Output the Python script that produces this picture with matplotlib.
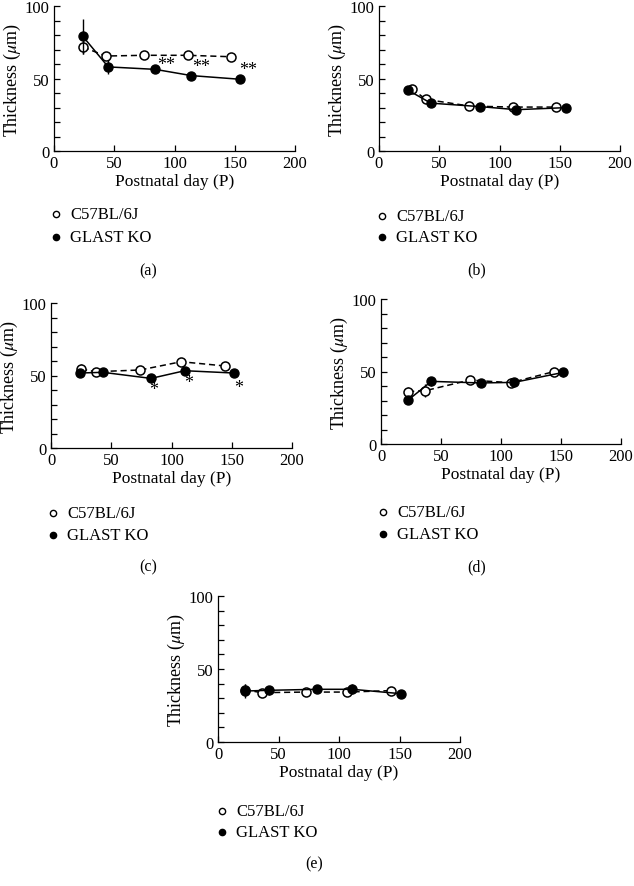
import numpy as np
import matplotlib
matplotlib.use("Agg")
import matplotlib.pyplot as plt
from matplotlib.lines import Line2D

plt.rcParams['font.family'] = ['Liberation Serif', 'DejaVu Serif']
plt.rcParams['mathtext.fontset'] = 'stix'

W, H = 634, 887

# Data ------------------------------------------------------------------
# (a)
a_wt_x = [24, 43, 75, 111, 147]
a_wt_y = [71.7, 65.5, 66, 66, 65]
a_wt_e = [4.5, 2, 1, 2, 1]
a_ko_x = [24, 45, 84, 114, 154]
a_ko_y = [79, 58, 56.3, 52, 49.5]
a_ko_e = [12, 5, 1, 1.5, 1.5]
a_star_x = [93, 122, 161]
a_star_y = [60, 58, 56]
a_star = ["**", "**", "**"]

# (b)
b_wt_x = [27, 39, 75, 111, 147]
b_wt_y = [43, 35.6, 31, 30.3, 30.3]
b_wt_e = [2, 1.5, 1, 1.5, 1]
b_ko_x = [24, 43, 84, 114, 155]
b_ko_y = [42, 33, 30.6, 28.5, 29.9]
b_ko_e = [2.5, 1.5, 1, 1, 1]

# (c)
c_wt_x = [25, 37, 74, 108, 144]
c_wt_y = [54.5, 52.6, 53.8, 59.5, 56.6]
c_wt_e = [3.5, 1, 1, 1, 1]
c_ko_x = [24, 43, 83, 111, 152]
c_ko_y = [51.7, 52.2, 48, 53.3, 51.7]
c_ko_e = [1, 1, 1, 1, 1]
c_star_x = [85, 114.5, 156]
c_star_y = [40, 45, 42]
c_star = ["*", "*", "*"]

# (d)
d_wt_x = [22.6, 37, 74, 108, 144]
d_wt_y = [36.1, 36.8, 44.1, 42.3, 49.9]
d_wt_e = [3, 4.6, 1, 3, 1]
d_ko_x = [22.6, 42, 83, 111, 152]
d_ko_y = [30.3, 43.2, 42.1, 42.5, 49.4]
d_ko_e = [3, 3, 3, 2, 3]

# (e)
e_wt_x = [22, 36, 73, 107, 143]
e_wt_y = [35.8, 33.8, 34.2, 34.2, 35.2]
e_wt_e = [4, 1, 1, 2, 1]
e_ko_x = [22, 42, 82, 111, 151]
e_ko_y = [34.9, 35.4, 36.1, 36.1, 33.1]
e_ko_e = [4.5, 3, 1, 3.5, 1]

panels = [
    # axes box (left, top, right, bottom) px, data, stars, legend, label pos, label
    ((54, 7, 295, 152), (a_wt_x, a_wt_y, a_wt_e, a_ko_x, a_ko_y, a_ko_e), (a_star_x, a_star_y, a_star),
     (56, 215, 238), (148, 271), "(a)"),
    ((379, 7, 620, 152), (b_wt_x, b_wt_y, b_wt_e, b_ko_x, b_ko_y, b_ko_e), None,
     (382, 217, 238), (477, 270), "(b)"),
    ((51, 304, 292, 449), (c_wt_x, c_wt_y, c_wt_e, c_ko_x, c_ko_y, c_ko_e), (c_star_x, c_star_y, c_star),
     (53, 514, 536), (148, 567), "(c)"),
    ((381, 300, 621, 445), (d_wt_x, d_wt_y, d_wt_e, d_ko_x, d_ko_y, d_ko_e), None,
     (383, 513, 535), (477, 567), "(d)"),
    ((218, 597, 460, 743), (e_wt_x, e_wt_y, e_wt_e, e_ko_x, e_ko_y, e_ko_e), None,
     (222, 812, 833), (314, 864), "(e)"),
]

fig = plt.figure(figsize=(W/100, H/100), dpi=100)

for box, d, stars, leg, lab, name in panels:
    l, t, r, b = box
    ax = fig.add_axes([l/W, 1 - b/H, (r-l)/W, (b-t)/H])
    wx, wy, we, kx, ky, ke = d
    ax.errorbar(wx, wy, yerr=we, color='k', ls=(0, (4, 2.5)), lw=1.1, marker='o',
                ms=6.5, mfc='white', mec='k', mew=1.1, elinewidth=1, capsize=0, zorder=3)
    ax.errorbar(kx, ky, yerr=ke, color='k', ls='-', lw=1.1, marker='o',
                ms=6.5, mfc='k', mec='k', elinewidth=1, capsize=0, zorder=4)
    if stars is not None:
        for sx, sy, s in zip(*stars):
            ax.text(sx, sy, s, ha='center', va='center', fontsize=13)
    ax.set_xlim(0, 200)
    ax.set_ylim(0, 100)
    ax.set_xticks([0, 50, 100, 150, 200])
    ax.set_yticks([0, 50, 100])
    ax.set_yticks(np.arange(0, 101, 10), minor=True)
    ax.tick_params(direction='in', length=4, width=0.9, labelsize=12, pad=3)
    ax.tick_params(which='minor', direction='in', length=4, width=0.9)
    ax.spines['top'].set_visible(False)
    ax.spines['right'].set_visible(False)
    ax.spines['left'].set_linewidth(0.9)
    ax.spines['bottom'].set_linewidth(0.9)
    ax.set_xlabel("Postnatal day (P)", fontsize=12.5, va='center')
    ax.xaxis.set_label_coords(0.5, -30/(b-t))
    ax.set_ylabel(r"Thickness ($\mu$m)", fontsize=13, va='center')
    ax.yaxis.set_label_coords(-42/(r-l), 0.5)

    # legend
    mx, y1, y2 = leg
    fig.add_artist(Line2D([mx/W], [1 - y1/H], transform=fig.transFigure, marker='o', ms=4.5,
                          mfc='white', mec='k', mew=1, ls='none'))
    fig.add_artist(Line2D([mx/W], [1 - y2/H], transform=fig.transFigure, marker='o', ms=4.5,
                          mfc='k', mec='k', ls='none'))
    fig.text((mx + 14)/W, 1 - y1/H, "C57BL/6J", fontsize=12, va='center')
    fig.text((mx + 14)/W, 1 - y2/H, "GLAST KO", fontsize=12, va='center')
    fig.text(lab[0]/W, 1 - lab[1]/H, name, fontsize=11.5, ha='center', va='center')

fig.savefig("out.png", dpi=100)
